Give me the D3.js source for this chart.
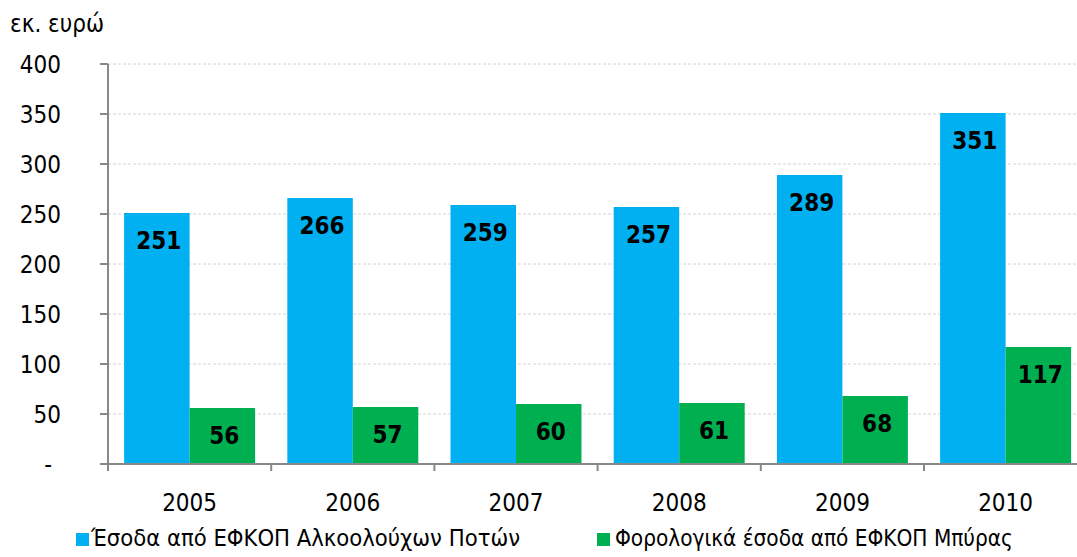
<!DOCTYPE html>
<html>
<head>
<meta charset="utf-8">
<script src="https://cdn.jsdelivr.net/npm/d3@7"></script>
<style>
  body { margin: 0; background: #fff; }
  text { font-family: "DejaVu Sans Condensed", "DejaVu Sans", sans-serif; fill: #000; }
</style>
</head>
<body>
<svg id="chart" width="1077" height="557"></svg>
<script>
// data
var years = ["2005", "2006", "2007", "2008", "2009", "2010"];
var seriesNames = ["Έσοδα από ΕΦΚΟΠ Αλκοολούχων Ποτών", "Φορολογικά έσοδα από ΕΦΚΟΠ Μπύρας"];
var alcohol = [251, 266, 259, 257, 289, 351];
var beer = [56, 57, 60, 61, 68, 117];
var yTicks = [0, 50, 100, 150, 200, 250, 300, 350, 400];
var colors = ["#00B0F0", "#00B050"];

var svg = d3.select("#chart");

var plotLeft = 108, plotBottom = 464, plotTop = 64, catW = 163.2;

var y = d3.scaleLinear().domain([0, 400]).range([plotBottom, plotTop]);
var x0 = d3.scaleBand().domain(years).range([plotLeft, plotLeft + catW * years.length]).padding(0);
var x1 = d3.scaleBand().domain([0, 1]).range([0, x0.bandwidth()]).paddingInner(0).paddingOuter(0.246);

// gridlines
svg.append("g").selectAll("line")
	.data(yTicks.filter(function (d) { return d > 0; }))
	.join("line")
	.attr("x1", plotLeft).attr("x2", 1077)
	.attr("y1", function (d) { return y(d); }).attr("y2", function (d) { return y(d); })
	.attr("stroke", "#d4d4d4").attr("stroke-width", 1).attr("stroke-dasharray", "3,2");

// bars
var rows = years.map(function (yr, i) { return { year: yr, vals: [alcohol[i], beer[i]] }; });
var groups = svg.append("g").selectAll("g")
	.data(rows)
	.join("g")
	.attr("transform", function (d) { return "translate(" + x0(d.year) + ",0)"; });

groups.selectAll("rect")
	.data(function (d) { return d.vals.map(function (v, k) { return { k: k, v: v }; }); })
	.join("rect")
	.attr("x", function (d) { return x1(d.k); })
	.attr("width", x1.bandwidth())
	.attr("y", function (d) { return y(d.v); })
	.attr("height", function (d) { return plotBottom - y(d.v); })
	.attr("fill", function (d) { return colors[d.k]; });

groups.selectAll("text")
	.data(function (d) { return d.vals.map(function (v, k) { return { k: k, v: v }; }); })
	.join("text")
	.attr("x", function (d) { return x1(d.k) + x1.bandwidth() / 2 + 2; })
	.attr("y", function (d) { return y(d.v) + 36; })
	.attr("text-anchor", "middle")
	.style("font-size", "24px").style("font-weight", "bold")
	.text(function (d) { return d.v; });

// y axis
var yAxis = svg.append("g");
yAxis.append("line")
	.attr("x1", plotLeft).attr("x2", plotLeft).attr("y1", plotTop).attr("y2", plotBottom)
	.attr("stroke", "#888").attr("stroke-width", 2);
yAxis.selectAll("line.tk")
	.data(yTicks)
	.join("line").attr("class", "tk")
	.attr("x1", 100).attr("x2", plotLeft)
	.attr("y1", function (d) { return y(d); }).attr("y2", function (d) { return y(d); })
	.attr("stroke", "#888").attr("stroke-width", 2);
yAxis.selectAll("text")
	.data(yTicks)
	.join("text")
	.attr("x", function (d) { return d === 0 ? 52 : 61; })
	.attr("y", function (d) { return y(d) + 8.5; })
	.attr("text-anchor", "end")
	.style("font-size", "24px")
	.text(function (d) { return d === 0 ? "-" : d; });

// x axis
var xAxis = svg.append("g");
xAxis.append("line")
	.attr("x1", 100).attr("x2", 1077).attr("y1", plotBottom).attr("y2", plotBottom)
	.attr("stroke", "#888").attr("stroke-width", 2);
xAxis.selectAll("line.tk")
	.data(years)
	.join("line").attr("class", "tk")
	.attr("x1", function (d) { return x0(d); }).attr("x2", function (d) { return x0(d); })
	.attr("y1", plotBottom).attr("y2", plotBottom + 7)
	.attr("stroke", "#888").attr("stroke-width", 2);
xAxis.selectAll("text")
	.data(years)
	.join("text")
	.attr("x", function (d) { return x0(d) + x0.bandwidth() / 2; })
	.attr("y", 511)
	.attr("text-anchor", "middle")
	.style("font-size", "24px")
	.text(function (d) { return d; });

// unit label
svg.append("text").attr("x", 10).attr("y", 32).style("font-size", "24px").text("εκ. ευρώ");

// legend
var legendPos = [{ sq: 76, tx: 91, w: 429 }, { sq: 597, tx: 615, w: 398 }];
seriesNames.forEach(function (name, k) {
	svg.append("rect")
		.attr("x", legendPos[k].sq).attr("y", 533).attr("width", 13).attr("height", 13)
		.attr("fill", colors[k]);
	var t = svg.append("text")
		.attr("x", legendPos[k].tx).attr("y", 546)
		.style("font-size", "24px")
		.text(name);
	// fit to the width seen in the picture
	var len = t.node().getComputedTextLength();
	t.style("font-size", (24 * legendPos[k].w / len).toFixed(2) + "px");
});
</script>
</body>
</html>
